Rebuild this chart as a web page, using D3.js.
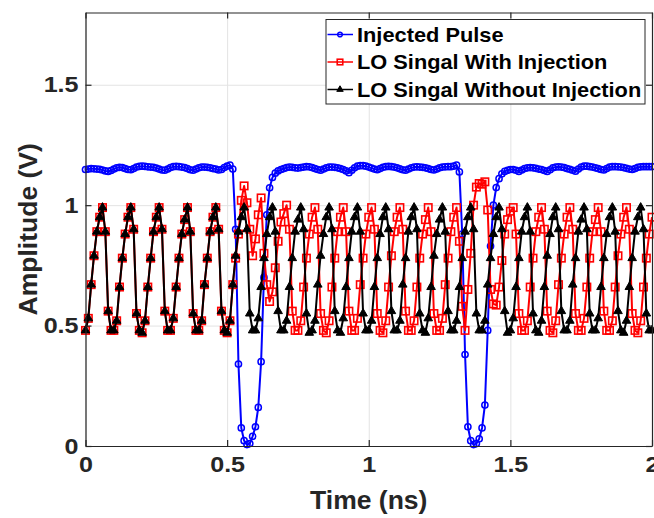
<!DOCTYPE html>
<html>
<head>
<meta charset="utf-8">
<script src="https://cdn.jsdelivr.net/npm/d3@7/dist/d3.min.js"></script>
<style>
    body { margin: 0; background: #fff; }
    svg { display: block; font-family: "Liberation Sans", Arial, Helvetica, sans-serif; font-weight: bold; }
</style>
</head>
<body>
<div id="chart"></div>
<script>
const WIDTH = 654;
const HEIGHT = 518;
const T_STEP = 0.01; // ns between two samples

const seriesNames = ["Injected Pulse", "LO Singal With Injection", "LO Singal Without Injection"];
const xTicks = [0, 0.5, 1, 1.5, 2];
const yTicks = [0, 0.5, 1, 1.5];

// Injected pulse (V), one row = 0.1 ns
const injectedPulse = [
    1.148, 1.150, 1.152, 1.151, 1.150, 1.149, 1.146, 1.142, 1.140, 1.144,
    1.150, 1.155, 1.157, 1.156, 1.152, 1.148, 1.147, 1.152, 1.158, 1.161,
    1.162, 1.161, 1.159, 1.158, 1.157, 1.154, 1.150, 1.146, 1.145, 1.150,
    1.156, 1.160, 1.161, 1.160, 1.158, 1.156, 1.152, 1.147, 1.145, 1.150,
    1.155, 1.158, 1.158, 1.157, 1.155, 1.152, 1.150, 1.146, 1.148, 1.156,
    1.162, 1.166, 1.150, 0.900, 0.340, 0.075, 0.022, 0.006, 0.010, 0.040,
    0.080, 0.160, 0.350, 0.700, 0.960, 1.072, 1.115, 1.133, 1.142, 1.148,
    1.152, 1.156, 1.158, 1.157, 1.155, 1.154, 1.156, 1.158, 1.160, 1.159,
    1.156, 1.152, 1.148, 1.145, 1.150, 1.155, 1.158, 1.158, 1.157, 1.155,
    1.152, 1.148, 1.142, 1.135, 1.145, 1.155, 1.162, 1.164, 1.164, 1.162,
    1.158, 1.154, 1.150, 1.147, 1.152, 1.157, 1.160, 1.161, 1.160, 1.158,
    1.155, 1.151, 1.147, 1.145, 1.150, 1.155, 1.158, 1.159, 1.158, 1.157,
    1.155, 1.152, 1.148, 1.146, 1.150, 1.155, 1.158, 1.159, 1.160, 1.160,
    1.162, 1.166, 1.138, 0.880, 0.380, 0.080, 0.022, 0.006, 0.010, 0.030,
    0.075, 0.170, 0.480, 0.830, 1.000, 1.073, 1.110, 1.130, 1.140, 1.145,
    1.148, 1.148, 1.145, 1.140, 1.146, 1.152, 1.155, 1.156, 1.155, 1.153,
    1.150, 1.148, 1.144, 1.140, 1.147, 1.155, 1.158, 1.159, 1.158, 1.156,
    1.152, 1.149, 1.145, 1.141, 1.150, 1.158, 1.162, 1.162, 1.160, 1.158,
    1.155, 1.152, 1.148, 1.146, 1.152, 1.158, 1.160, 1.160, 1.159, 1.158,
    1.156, 1.153, 1.150, 1.148, 1.152, 1.157, 1.159, 1.160, 1.160, 1.160,
    1.160
];

// LO with injection (V)
const loWithInjection = [
    0.48, 0.53, 0.67, 0.79, 0.89, 0.95, 0.99, 0.89, 0.56, 0.48,
    0.48, 0.52, 0.66, 0.78, 0.88, 0.95, 0.99, 0.90, 0.55, 0.48,
    0.47, 0.52, 0.66, 0.78, 0.89, 0.95, 0.99, 0.90, 0.56, 0.48,
    0.48, 0.53, 0.66, 0.78, 0.88, 0.94, 0.99, 0.89, 0.55, 0.48,
    0.48, 0.52, 0.67, 0.78, 0.89, 0.95, 0.99, 0.90, 0.56, 0.48,
    0.47, 0.52, 0.67, 0.78, 0.88, 1.02, 1.08, 1.01, 0.90, 0.79,
    0.86, 0.96, 1.03, 0.80, 0.67, 0.60, 0.64, 0.74, 0.85, 0.93,
    0.965, 1.00, 0.90, 0.56, 0.48, 0.48, 0.52, 0.66, 0.78, 0.88,
    0.95, 0.99, 0.90, 0.55, 0.48, 0.47, 0.52, 0.66, 0.78, 0.89,
    0.95, 0.99, 0.89, 0.56, 0.48, 0.48, 0.53, 0.67, 0.78, 0.88,
    0.95, 0.99, 0.90, 0.55, 0.48, 0.47, 0.52, 0.66, 0.79, 0.89,
    0.95, 0.99, 0.90, 0.56, 0.48, 0.48, 0.52, 0.66, 0.78, 0.88,
    0.94, 0.99, 0.89, 0.55, 0.48, 0.48, 0.53, 0.67, 0.78, 0.89,
    0.95, 0.99, 0.85, 0.58, 0.48, 0.65, 0.80, 1.00, 1.075, 1.09,
    1.087, 1.097, 0.98, 0.65, 0.59, 0.585, 0.66, 0.77, 0.88, 0.94,
    0.975, 0.99, 0.88, 0.55, 0.48, 0.48, 0.52, 0.66, 0.78, 0.89,
    0.95, 0.99, 0.90, 0.56, 0.48, 0.47, 0.52, 0.67, 0.78, 0.88,
    0.95, 0.99, 0.90, 0.55, 0.48, 0.48, 0.53, 0.66, 0.78, 0.89,
    0.94, 0.99, 0.89, 0.56, 0.48, 0.48, 0.52, 0.66, 0.79, 0.88,
    0.95, 0.99, 0.90, 0.55, 0.48, 0.47, 0.52, 0.66, 0.78, 0.88,
    0.95
];

// LO without injection (V)
const loWithoutInjection = [
    0.48, 0.53, 0.67, 0.79, 0.89, 0.95, 0.99, 0.89, 0.56, 0.48,
    0.48, 0.52, 0.66, 0.78, 0.88, 0.95, 0.99, 0.90, 0.55, 0.48,
    0.47, 0.52, 0.66, 0.78, 0.89, 0.95, 0.99, 0.90, 0.56, 0.48,
    0.48, 0.53, 0.66, 0.78, 0.88, 0.94, 0.99, 0.89, 0.55, 0.48,
    0.48, 0.52, 0.67, 0.78, 0.89, 0.95, 0.99, 0.90, 0.56, 0.48,
    0.47, 0.52, 0.67, 0.79, 0.89, 0.95, 0.99, 0.90, 0.55, 0.48,
    0.48, 0.53, 0.66, 0.78, 0.88, 0.95, 0.99, 0.89, 0.56, 0.48,
    0.48, 0.52, 0.66, 0.78, 0.89, 0.94, 0.99, 0.90, 0.55, 0.47,
    0.48, 0.52, 0.67, 0.79, 0.88, 0.95, 0.99, 0.90, 0.56, 0.48,
    0.47, 0.53, 0.66, 0.78, 0.89, 0.95, 0.99, 0.89, 0.55, 0.48,
    0.48, 0.52, 0.66, 0.78, 0.88, 0.95, 0.99, 0.90, 0.56, 0.48,
    0.48, 0.52, 0.67, 0.78, 0.89, 0.95, 0.99, 0.90, 0.55, 0.48,
    0.47, 0.53, 0.66, 0.79, 0.88, 0.94, 0.99, 0.89, 0.56, 0.48,
    0.48, 0.52, 0.66, 0.78, 0.89, 0.95, 0.99, 0.90, 0.55, 0.48,
    0.48, 0.52, 0.67, 0.78, 0.88, 0.95, 0.99, 0.90, 0.56, 0.47,
    0.48, 0.53, 0.66, 0.78, 0.89, 0.95, 0.99, 0.89, 0.55, 0.48,
    0.47, 0.52, 0.66, 0.79, 0.88, 0.95, 0.99, 0.90, 0.56, 0.48,
    0.48, 0.52, 0.67, 0.78, 0.89, 0.94, 0.99, 0.90, 0.55, 0.48,
    0.48, 0.53, 0.66, 0.78, 0.88, 0.95, 0.99, 0.89, 0.56, 0.48,
    0.47, 0.52, 0.66, 0.78, 0.89, 0.95, 0.99, 0.90, 0.55, 0.48,
    0.48
];

const PLOT = { left: 85.5, right: 652, top: 12.5, bottom: 446 };
const AXIS_COLOR = "#262626";
const TEXT_STRETCH = 1.14; // the reference font is a bit wider than Liberation Sans

const svg = d3.select("#chart")
    .append("svg")
    .attr("width", WIDTH)
    .attr("height", HEIGHT);

const x = d3.scaleLinear().domain([0, 2]).range([PLOT.left, PLOT.right]);
const y = d3.scaleLinear().domain([0, 1.8]).range([PLOT.bottom, PLOT.top]);

// grid lines
svg.append("g")
    .attr("transform", `translate(0,${PLOT.bottom})`)
    .call(d3.axisBottom(x).tickValues(xTicks).tickSize(-(PLOT.bottom - PLOT.top)).tickFormat(""))
    .call(g => g.select(".domain").remove())
    .selectAll("line").attr("stroke", "#e3e3e3");

svg.append("g")
    .attr("transform", `translate(${PLOT.left},0)`)
    .call(d3.axisLeft(y).tickValues(yTicks).tickSize(-(PLOT.right - PLOT.left)).tickFormat(""))
    .call(g => g.select(".domain").remove())
    .selectAll("line").attr("stroke", "#e3e3e3");

// series: blue first, then red, black on top
const series = [
    { name: seriesNames[0], values: injectedPulse, color: "#0000ff", marker: "circle" },
    { name: seriesNames[1], values: loWithInjection, color: "#ff0000", marker: "square" },
    { name: seriesNames[2], values: loWithoutInjection, color: "#000000", marker: "triangle" }
];

const line = d3.line()
    .x((d, i) => x(i * T_STEP))
    .y(d => y(d));

function drawMarker(sel, s, scale) {
    if (s.marker === "circle") {
        sel.append("circle")
            .attr("r", 3.1 * scale)
            .attr("fill", "none")
            .attr("stroke", s.color)
            .attr("stroke-width", 1.5);
    } else if (s.marker === "square") {
        const h = 3.7 * scale;
        sel.append("rect")
            .attr("x", -h).attr("y", -h)
            .attr("width", 2 * h).attr("height", 2 * h)
            .attr("fill", "none")
            .attr("stroke", s.color)
            .attr("stroke-width", 1.6);
    } else {
        sel.append("path")
            .attr("d", d3.symbol().type(d3.symbolTriangle).size(32 * scale * scale)())
            .attr("fill", s.color)
            .attr("stroke", s.color)
            .attr("stroke-width", 1);
    }
}

series.forEach(s => {
    const g = svg.append("g").attr("class", "series");

    g.append("path")
        .datum(s.values)
        .attr("fill", "none")
        .attr("stroke", s.color)
        .attr("stroke-width", 2)
        .attr("stroke-linejoin", "round")
        .attr("d", line);

    g.selectAll("g.pt")
        .data(s.values)
        .enter()
        .append("g")
        .attr("class", "pt")
        .attr("transform", (d, i) => `translate(${x(i * T_STEP)},${y(d)})`)
        .each(function () { drawMarker(d3.select(this), s, 1); });
});

// axes (box with ticks pointing inside)
const fmt = d3.format("");

function styleAxis(g) {
    g.select(".domain").attr("stroke", AXIS_COLOR).attr("stroke-width", 1.2);
    g.selectAll(".tick line").attr("stroke", AXIS_COLOR).attr("stroke-width", 1.2);
    g.selectAll("text")
        .attr("fill", AXIS_COLOR)
        .attr("transform", `scale(${TEXT_STRETCH},1)`)
        .style("font-size", "22px")
        .style("font-weight", "bold")
        .style("font-family", "'Liberation Sans', Arial, sans-serif");
}

svg.append("g")
    .attr("transform", `translate(0,${PLOT.bottom})`)
    .call(d3.axisBottom(x).tickValues(xTicks).tickSizeInner(-6).tickSizeOuter(0).tickPadding(10).tickFormat(fmt))
    .call(styleAxis);

svg.append("g")
    .attr("transform", `translate(0,${PLOT.top})`)
    .call(d3.axisTop(x).tickValues(xTicks).tickSizeInner(-6).tickSizeOuter(0).tickFormat(""))
    .call(styleAxis);

svg.append("g")
    .attr("transform", `translate(${PLOT.left},0)`)
    .call(d3.axisLeft(y).tickValues(yTicks).tickSizeInner(-6).tickSizeOuter(0).tickPadding(7).tickFormat(fmt))
    .call(styleAxis)
    .selectAll("text").attr("x", -7 / TEXT_STRETCH);

svg.append("g")
    .attr("transform", `translate(${PLOT.right},0)`)
    .call(d3.axisRight(y).tickValues(yTicks).tickSizeInner(-6).tickSizeOuter(0).tickFormat(""))
    .call(styleAxis);

// axis labels
svg.append("text")
    .attr("x", (PLOT.left + PLOT.right) / 2)
    .attr("y", 509)
    .attr("text-anchor", "middle")
    .attr("fill", AXIS_COLOR)
    .style("font-size", "26.5px")
    .text("Time (ns)");

svg.append("text")
    .attr("transform", `translate(37,${(PLOT.top + PLOT.bottom) / 2}) rotate(-90)`)
    .attr("text-anchor", "middle")
    .attr("fill", AXIS_COLOR)
    .style("font-size", "26.5px")
    .text("Amplitude (V)");

// legend
const legend = svg.append("g").attr("class", "legend");

legend.append("rect")
    .attr("x", 326)
    .attr("y", 19.5)
    .attr("width", 319)
    .attr("height", 84.5)
    .attr("fill", "#fff")
    .attr("stroke", AXIS_COLOR)
    .attr("stroke-width", 1);

series.forEach((s, i) => {
    const rowY = 34.5 + i * 27.5;
    const row = legend.append("g");

    row.append("line")
        .attr("x1", 327.5).attr("x2", 353)
        .attr("y1", rowY).attr("y2", rowY)
        .attr("stroke", s.color)
        .attr("stroke-width", 1.5);

    const m = row.append("g").attr("transform", `translate(340,${rowY})`);
    drawMarker(m, s, 0.75);

    row.append("g")
        .attr("transform", `translate(357,${rowY})`)
        .append("text")
        .attr("transform", "scale(1.09,1)")
        .attr("dy", "0.36em")
        .attr("fill", "#000")
        .style("font-size", "20px")
        .text(s.name);
});
</script>
</body>
</html>
